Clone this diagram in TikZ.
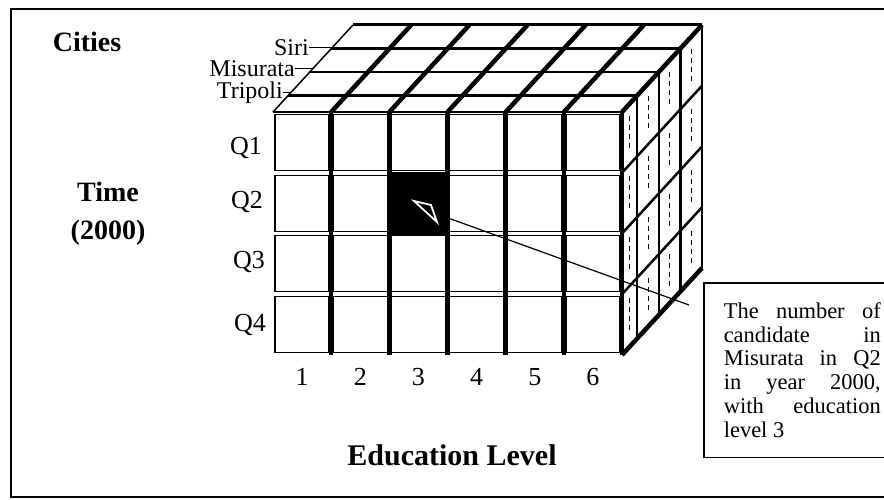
\documentclass[tikz,border=0pt]{standalone}
\usepackage{fontspec}
\setmainfont{Liberation Serif}
\begin{document}
\begin{tikzpicture}[x=1pt,y=-1pt,
  cell/.style={draw,line width=1.2pt,fill=white,minimum width=54pt,minimum height=56pt,inner sep=0pt},
  hlcell/.style={fill=black,minimum width=60pt,minimum height=63pt,inner sep=0pt},
  sepline/.style={line width=4.5pt},
  bandline/.style={line width=2.5pt},
  cellmark/.style={line width=1pt,dash pattern=on 5pt off 4pt},
  qlab/.style={font=\fontsize{26}{26}\selectfont,inner sep=0pt},
  citylab/.style={font=\fontsize{24}{24}\selectfont,inner sep=0pt,anchor=east},
  headlab/.style={font=\fontsize{28}{38}\selectfont\bfseries,inner sep=0pt,align=center},
  notebox/.style={draw,line width=1.5pt,anchor=north west,text width=157pt,inner xsep=20pt,inner ysep=20pt,align=justify,font=\fontsize{22.5}{23.7}\selectfont}]
  \useasboundingbox (0,0) rectangle (884,500);
  \clip (0,0) rectangle (884,500);
  \draw[line width=2pt] (11,9) rectangle (900,497);

  % front face, 6 levels x 4 quarters
  \foreach \i in {1,...,6}
    \foreach \j in {1,...,4}
      \node[cell] (c\i\j) at ({273+(\i-0.5)*58.17},{112+(\j-0.5)*60.75}) {};
  \node[hlcell] (hl) at (c32) {};
  \draw[white,line width=1.8pt] (414,201) -- (431,205) -- (437,222) -- cycle;
  \draw[line width=1.2pt] (273,112) -- (622,112);
  \foreach \i in {1,...,6}
    \draw[sepline] ({273+\i*58.17},112) -- ({273+\i*58.17},355);

  % top face
  \draw[line width=1.5pt] (273,112) -- ++(80,-87);
  \foreach \i in {1,...,6}
    \draw[sepline] ({273+\i*58.17},112) -- ++(80,-87);
  \foreach \f in {0.19,0.46,0.73}
    \draw[bandline] ({273+80*\f},{112-87*\f}) -- ({622+80*\f},{112-87*\f});
  \draw[line width=3pt] (353,25) -- (702,25);

  % right face
  \foreach \f in {0.19,0.46,0.73,1}
    \draw[bandline] ({622+80*\f},{112-87*\f}) -- ++(0,243);
  \foreach \j in {1,2,3}
    \draw[bandline] (622,{112+\j*60.75}) -- ++(80,-87);
  \draw[sepline] (622,355) -- ++(80,-87);
  \foreach \fa/\fb in {0/0.19,0.19/0.46,0.46/0.73,0.73/1}
    \foreach \j in {0,...,3}
      \draw[cellmark] ({622+40*(\fa+\fb)},{112+\j*60.75-43.5*(\fa+\fb)+12}) -- ++(0,36);

  % axis labels
  \node[headlab] (cities) at (87,42) {Cities};
  \node[headlab] (time) at (108,214) {Time\\(2000)};
  \node[headlab,font=\fontsize{30}{30}\selectfont\bfseries] (edu) at (452,455) {Education Level};
  \node[qlab,anchor=east] (q1) at (262,148) {Q1};
  \node[qlab,anchor=east] (q2) at (263,202) {Q2};
  \node[qlab,anchor=east] (q3) at (265,262) {Q3};
  \node[qlab,anchor=east] (q4) at (266,325) {Q4};
  \foreach \i in {1,...,6}
    \node[qlab] (n\i) at ({273+(\i-0.5)*58.17},377) {\i};

  % cities
  \node[citylab] (siri) at (309,48) {Siri};
  \node[citylab] (misurata) at (295,69) {Misurata};
  \node[citylab] (tripoli) at (283,93) {Tripoli};
  \coordinate (sirip) at (331,48);
  \coordinate (misuratap) at (312,69);
  \coordinate (tripolip) at (290,93);
  \draw[line width=1pt] (siri.east) -- (sirip);
  \draw[line width=1pt] (misurata.east) -- (misuratap);
  \draw[line width=1pt] (tripoli.east) -- (tripolip);

  % note
  \node[notebox] (note) at (703,282) {The number of\linebreak candidate in\linebreak Misurata in Q2\linebreak in year 2000,\linebreak with education\linebreak level 3\par\vspace*{31pt}};
  \coordinate (tip) at (437,214);
  \coordinate (lineend) at (689,305);
  \draw[line width=1.2pt] (tip) -- (lineend);
\end{tikzpicture}
\end{document}
